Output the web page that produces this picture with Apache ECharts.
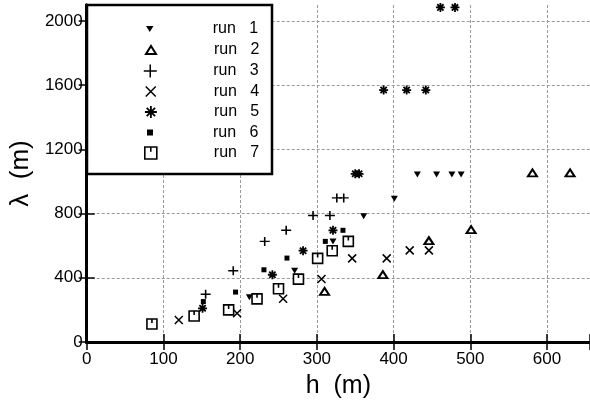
<!DOCTYPE html>
<html>
<head>
<meta charset="utf-8">
<script src="https://cdn.jsdelivr.net/npm/echarts@6/dist/echarts.min.js"></script>
<style>
  html, body { margin: 0; padding: 0; background: #fff; }
  #chart { width: 590px; height: 407px; }
</style>
</head>
<body>
<div id="chart"></div>
<script>
// wavelength vs height, seven runs: [h (m), lambda (m)]
const runNames = ['run 1', 'run 2', 'run 3', 'run 4', 'run 5', 'run 6', 'run 7'];
const run1 = [[212, 279], [271, 444], [321, 627], [361, 783], [401, 892], [431, 1044], [456, 1044], [476, 1044], [488, 1044]];
const run2 = [[310, 315], [386, 420], [446, 631], [501, 700], [581, 1054], [630, 1054]];
const run3 = [[155, 298], [191, 444], [232, 627], [260, 696], [295, 788], [317, 788], [326, 898], [335, 898]];
const run4 = [[120, 137], [196, 179], [256, 269], [306, 392], [346, 521], [391, 521], [421, 571], [446, 571]];
const run5 = [[151, 210], [242, 419], [282, 569], [321, 696], [350, 1048], [355, 1048], [387, 1570], [417, 1570], [442, 1570], [461, 2085], [480, 2085]];
const run6 = [[152, 252], [194, 311], [231, 450], [261, 523], [311, 627], [334, 696]];
const run7 = [[85, 112], [140, 162], [185, 200], [222, 269], [250, 332], [276, 392], [301, 521], [320, 569], [341, 627]];
const runData = [run1, run2, run3, run4, run5, run6, run7];

const xTickLabels = [0, 100, 200, 300, 400, 500, 600];
const yTickLabels = [0, 400, 800, 1200, 1600, 2000];

// marker looks (plot size, legend size)
const markers = [
    { symbol: 'path://M0,0 L10,0 L5,8 Z', size: [7, 6], lg: [8, 6], fill: '#000', bw: 0 },
    { symbol: 'path://M5,0 L10,8 L0,8 Z', size: [9, 7], lg: [10, 8], fill: '#fff', bw: 2 },
    { symbol: 'path://M5,0 L5,10 M0,5 L10,5', size: [10, 9], lg: [14, 13], fill: '#000', bw: 1.5 },
    { symbol: 'path://M0,0 L10,10 M10,0 L0,10', size: [8, 8], lg: [10, 10], fill: '#000', bw: 1.5 },
    { symbol: 'path://M5,0 L5,10 M0,5 L10,5 M1.5,1.5 L8.5,8.5 M8.5,1.5 L1.5,8.5', size: [9, 9], lg: [12, 12], fill: '#000', bw: 1.8 },
    { symbol: 'path://M0,0 L10,0 L10,10 L0,10 Z', size: [5, 5], lg: [6, 6], fill: '#000', bw: 0 },
    { symbol: 'path://M0,0 L10,0 L10,10 L0,10 Z M5,0 L5,4', size: [10, 10], lg: [12, 12], fill: '#fff', bw: 1.6 }
];
const legendRows = [29, 50, 71, 91.5, 112, 132.5, 153];
const legendIconX = 150;
const legendTextX = 213;
const legendTextH = 16;

const font = 'Liberation Sans, Arial, Helvetica, sans-serif';
const gridLine = { show: true, lineStyle: { color: '#999', type: [3, 2], width: 1 } };

const chart = echarts.init(document.getElementById('chart'), null, { renderer: 'canvas' });

const option = {
    animation: false,
    backgroundColor: '#fff',
    grid: { left: 86, right: -4, top: 5, bottom: 65, containLabel: false },
    xAxis: [
        {
            type: 'value', min: 0, max: 656, interval: 100,
            name: 'h  (m)', nameLocation: 'middle', nameGap: 32,
            nameTextStyle: { fontSize: 25, fontFamily: font, color: '#000' },
            axisLine: { lineStyle: { color: '#000', width: 3 } },
            axisTick: { inside: true, length: 8, lineStyle: { color: '#000', width: 1.5 } },
            axisLabel: { customValues: xTickLabels, fontSize: 17, fontFamily: font, color: '#000', margin: 9, formatter: v => String(v) },
            splitLine: gridLine
        },
        {
            type: 'value', min: 0, max: 656, interval: 100, position: 'top',
            axisLine: { lineStyle: { color: '#000', width: 3 } },
            axisTick: { inside: true, length: 8, lineStyle: { color: '#000', width: 1.5 } },
            axisLabel: { show: false },
            splitLine: { show: false }
        }
    ],
    yAxis: [
        {
            type: 'value', min: 0, max: 2100, interval: 200,
            name: 'λ  (m)', nameLocation: 'middle', nameGap: 42, nameRotate: 90,
            nameTextStyle: { fontSize: 26, fontFamily: font, color: '#000' },
            axisLine: { show: true, lineStyle: { color: '#000', width: 3 } },
            axisTick: { show: true, inside: true, length: 8, customValues: yTickLabels, lineStyle: { color: '#000', width: 1.5 } },
            axisLabel: { customValues: yTickLabels, fontSize: 17, fontFamily: font, color: '#000', margin: 4, formatter: v => String(v) },
            splitLine: gridLine
        },
        {
            type: 'value', min: 0, max: 2100, interval: 200, position: 'right',
            axisLine: { show: true, lineStyle: { color: '#000', width: 3 } },
            axisTick: { show: true, inside: true, length: 8, customValues: yTickLabels, lineStyle: { color: '#000', width: 1.5 } },
            axisLabel: { show: false },
            splitLine: { show: false }
        }
    ],
    legend: runNames.map((name, i) => {
        const w = markers[i].lg[0], h = markers[i].lg[1];
        return {
            show: true,
            selectedMode: false,
            padding: 0,
            left: legendIconX - w / 2,
            top: legendRows[i] - Math.max(h, legendTextH) / 2,
            itemWidth: w,
            itemHeight: h,
            z: 6,
            formatter: n => n.replace(' ', '   '),
            textStyle: {
                fontSize: 16, fontFamily: font, color: '#000',
                padding: [0, 0, 0, legendTextX - (legendIconX + w / 2 + 5)]
            },
            data: [{
                name: name,
                icon: markers[i].symbol,
                itemStyle: { color: markers[i].fill, borderColor: '#000', borderWidth: markers[i].bw, opacity: 1 }
            }]
        };
    }),
    graphic: [{
        type: 'rect', z: 5,
        shape: { x: 87, y: 5, width: 185, height: 169 },
        style: { fill: '#fff', stroke: '#000', lineWidth: 2.5 }
    }],
    series: runNames.map((name, i) => ({
        name: name,
        type: 'scatter',
        data: runData[i],
        symbol: markers[i].symbol,
        symbolSize: markers[i].size,
        itemStyle: { color: markers[i].fill, borderColor: '#000', borderWidth: markers[i].bw, opacity: 1 },
        emphasis: { disabled: true }
    }))
};

chart.setOption(option);
</script>
</body>
</html>
